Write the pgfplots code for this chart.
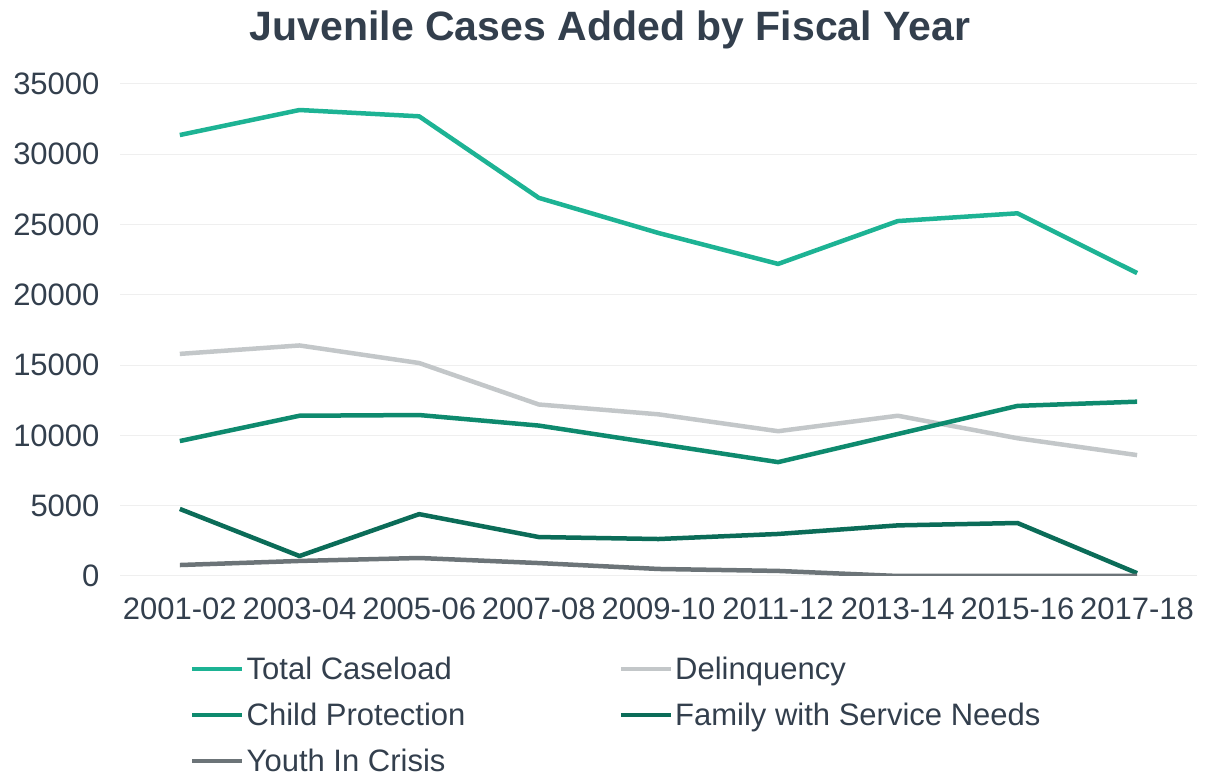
\documentclass[border=0pt]{standalone}
\usepackage{pgfplots}
\pgfplotsset{compat=1.18}
\usepackage{fontspec}
\setmainfont{Liberation Sans}
\definecolor{txt}{HTML}{333F4D}
\definecolor{cTotal}{HTML}{1DB394}
\definecolor{cDel}{HTML}{C3C7C9}
\definecolor{cChild}{HTML}{0E8A6E}
\definecolor{cFam}{HTML}{0B6C58}
\definecolor{cYouth}{HTML}{6C7478}
\definecolor{grid}{HTML}{EFEFEF}
\begin{document}
\begin{tikzpicture}
\path[use as bounding box] (0,0) rectangle (1205pt,783pt);
\node[font=\fontsize{41}{46}\selectfont\bfseries, text=txt] at (610pt,753pt) {Juvenile Cases Added by Fiscal Year};
\begin{axis}[
  at={(120pt,207pt)}, anchor=south west,
  scale only axis, width=1077pt, height=492pt,
  xmin=-0.5, xmax=8.5, ymin=0, ymax=35000,
  xtick={0,...,8},
  xticklabels={2001-02,2003-04,2005-06,2007-08,2009-10,2011-12,2013-14,2015-16,2017-18},
  ytick={0,5000,...,35000},
  scaled y ticks=false,
  /pgf/number format/assume math mode=true,
  yticklabel={\pgfmathprintnumber[fixed,1000 sep={}]{\tick}},
  ymajorgrids, grid style={draw=grid, line width=1pt},
  axis line style={draw=none},
  major tick length=0pt,
  tick label style={font=\fontsize{31}{36}\selectfont, text=txt},
  yticklabel style={xshift=-17pt},
  xticklabel style={yshift=-18pt},
  legend columns=2,
  legend cell align=left,
  legend style={at={(0.065,-0.16)}, anchor=north west, draw=none, fill=none,
    font=\fontsize{31}{35}\selectfont, text=txt, row sep=18pt,
    inner sep=0pt},
  legend image code/.code={\draw[#1] (0pt,0pt) -- (50pt,0pt);},
  every axis plot/.append style={line width=4.5pt, line join=round},
]
\addplot[cTotal] coordinates {(0,31370) (1,33150) (2,32700) (3,26900) (4,24400) (5,22200) (6,25250) (7,25800) (8,21550)};
\addlegendentry{\makebox[370pt][l]{Total Caseload}}
\addplot[cDel] coordinates {(0,15800) (1,16400) (2,15150) (3,12200) (4,11500) (5,10300) (6,11400) (7,9800) (8,8600)};
\addlegendentry{Delinquency}
\addplot[cChild] coordinates {(0,9600) (1,11400) (2,11450) (3,10700) (4,9400) (5,8100) (6,10100) (7,12100) (8,12400)};
\addlegendentry{\makebox[370pt][l]{Child Protection}}
\addplot[cFam] coordinates {(0,4770) (1,1420) (2,4400) (3,2770) (4,2630) (5,2990) (6,3600) (7,3770) (8,200)};
\addlegendentry{Family with Service Needs}
\addplot[cYouth] coordinates {(0,780) (1,1070) (2,1280) (3,920) (4,500) (5,360) (6,0) (7,0) (8,0)};
\addlegendentry{Youth In Crisis}
\end{axis}
\end{tikzpicture}
\end{document}
